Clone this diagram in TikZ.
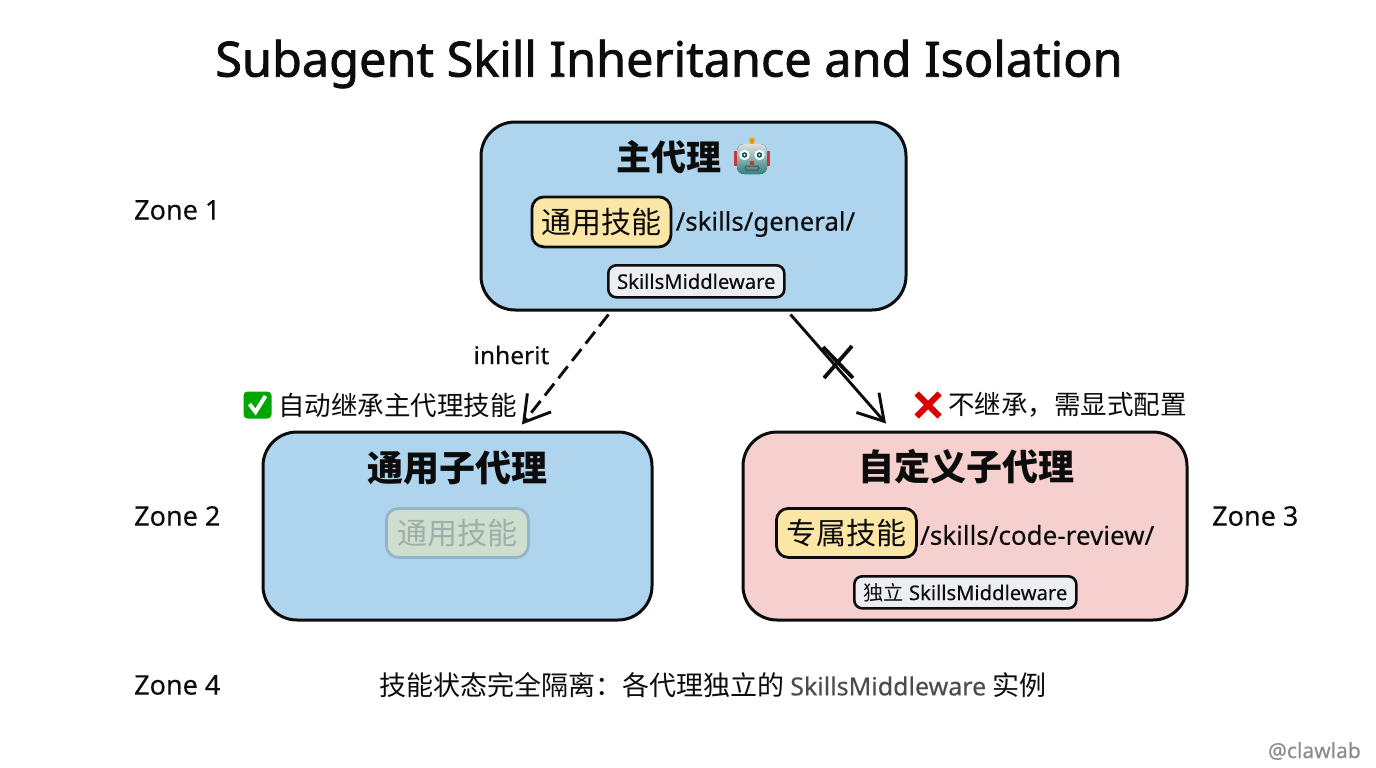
\documentclass[tikz,border=0pt]{standalone}
\usepackage{fontspec}
\setmainfont{Noto Sans}[FakeBold=0.15]
\newfontfamily\titlefont{Noto Sans}[FakeBold=1.5]
\newfontfamily\plainlatin{Noto Sans}[FakeBold=0.15]
\newfontfamily\cjk{Noto Sans CJK SC}
\usetikzlibrary{arrows.meta,calc}
\definecolor{bluebox}{HTML}{AED4EE}
\definecolor{pinkbox}{HTML}{F6D0CE}
\definecolor{yellowchip}{HTML}{FBE6A6}
\definecolor{graychip}{HTML}{ECEEF3}
\definecolor{fadechip}{HTML}{CFDFCF}
\definecolor{fadeline}{HTML}{94B4C8}
\definecolor{fadetext}{HTML}{9DAFA8}
\definecolor{ink}{HTML}{0C0C0C}
\newcommand{\fs}[1]{\fontsize{#1}{#1}\selectfont}
\tikzset{
  x=1pt,y=-1pt,
  panel/.style={draw=ink,line width=3pt,rounded corners=34pt,anchor=north west,inner sep=0pt},
  chip/.style={draw=ink,line width=2.8pt,rounded corners=12pt,fill=yellowchip,anchor=north west,inner sep=0pt,text=ink},
  tagbox/.style={draw=ink,line width=2.6pt,rounded corners=8pt,fill=graychip,anchor=north west,inner sep=0pt,text=ink},
  zone/.style={anchor=west,inner sep=0pt,text=ink,font=\fs{27}},
  txt/.style={inner sep=0pt,text=ink},
  link/.style={draw=ink,line width=2.9pt,-{Straight Barb[length=25pt,width=30pt,line width=2.9pt]}}
}
\begin{document}
\begin{tikzpicture}
\useasboundingbox (0,0) rectangle (1376,768);
\fill[white] (0,0) rectangle (1376,768);

\node[txt,font=\fs{48.6}\titlefont] (title) at (669,64) {Subagent Skill Inheritance and Isolation};

\node[panel,fill=bluebox,minimum width=425pt,minimum height=188pt] (main) at (479.5,120.5) {};
\node[panel,fill=bluebox,minimum width=389pt,minimum height=188pt] (gen) at (261.5,430.5) {};
\node[panel,fill=pinkbox,minimum width=444pt,minimum height=188pt] (cus) at (741.5,430.5) {};

\node[txt,font=\fs{35}\cjk\bfseries] (maint) at (669,157) {主代理};
\node[txt,font=\fs{36}\cjk\bfseries] (gent) at (457,468) {通用子代理};
\node[txt,font=\fs{36}\cjk\bfseries] (cust) at (966,467) {自定义子代理};

% robot emoji
\coordinate (robot) at (752,158);
\begin{scope}[shift={(robot)}]
  \draw[line width=1.4pt,draw=gray] (0,-13) -- (0,-16);
  \fill[orange!85!yellow] (0,-17.5) circle (3);
  \fill[red!55!gray] (-18,-7) rectangle (-14,8);
  \fill[red!55!gray] (14,-7) rectangle (18,8);
  \fill[rounded corners=7pt,top color=gray!25!white,bottom color=teal!60!gray] (-15,-14) rectangle (15,16);
  \foreach \sx in {-7.5,7.5}{
    \fill[white] (\sx,-3) circle (5.2);
    \fill[teal!70!black] (\sx,-3) circle (2.8);
    \fill[white] (\sx,-3) circle (1.1);
  }
  \fill[red!55!gray] (-2,3) rectangle (2,7);
  \draw[line width=1pt,draw=black!70,rounded corners=1.5pt] (-7,8) rectangle (7,12);
\end{scope}

\node[chip,minimum width=139pt,minimum height=50pt,font=\fs{30}\cjk] (skill1) at (530.5,195.5) {通用技能};
\node[txt,anchor=west,font=\fs{25.8}] (path1) at (675.5,224) {/skills/general/};
\node[tagbox,minimum width=176pt,minimum height=32pt,font=\fs{20.2}] (mw1) at (607,264) {SkillsMiddleware};

\node[chip,draw=fadeline,fill=fadechip,text=fadetext,minimum width=142pt,minimum height=49pt,font=\fs{30}\cjk] (skill2) at (385,507) {通用技能};

\node[chip,minimum width=140pt,minimum height=49pt,font=\fs{30}\cjk] (skill3) at (775,507) {专属技能};
\node[txt,anchor=west,font=\fs{26}] (path3) at (920,535) {/skills/code-review/};
\node[tagbox,minimum width=222pt,minimum height=32pt,font=\fs{20.2}] (mw3) at (853,575) {{\cjk 独立} SkillsMiddleware};

\node[zone] (z1) at (134,210) {Zone 1};
\node[zone] (z2) at (134,516) {Zone 2};
\node[zone] (z3) at (1212,516) {Zone 3};
\node[zone] (z4) at (134,685) {Zone 4};

% connectors
\coordinate (inhS) at ($(main.south)+(-85,3)$);
\coordinate (inhE) at ($(gen.north)+(64.5,-6)$);
\coordinate (noS) at ($(main.south)+(97,3)$);
\coordinate (noE) at ($(cus.north)+(-79,-7)$);
\draw[link,dash pattern=on 15pt off 7pt] (inhS) -- (inhE);
\draw[link] (noS) -- (noE);
\coordinate (xc) at (838,362);
\draw[ink,line width=3.8pt] ($(xc)+(-15,-15)$) -- ($(xc)+(15,16)$);
\draw[ink,line width=3.8pt] ($(xc)+(14,-16)$) -- ($(xc)+(-14,16)$);

\node[txt,font=\fs{24.5}] (inh) at (511.5,355) {inherit};

% green check
\coordinate (okm) at (257.5,405);
\fill[green!65!black,rounded corners=4pt] ($(okm)+(-14,-13.5)$) rectangle ($(okm)+(14,13.5)$);
\draw[white,line width=4pt] ($(okm)+(-8,-1)$) -- ($(okm)+(-2,7)$) -- ($(okm)+(8,-9)$);
\node[txt,anchor=west,font=\fs{26.5}\cjk] (okt) at (278,405) {自动继承主代理技能};

% red cross
\coordinate (ngm) at (928,405);
\draw[red!85!black,line width=6pt] ($(ngm)+(-11.5,-11.5)$) -- ($(ngm)+(11.5,11.5)$);
\draw[red!85!black,line width=6pt] ($(ngm)+(11.5,-11.5)$) -- ($(ngm)+(-11.5,11.5)$);
\node[txt,anchor=west,font=\fs{26.5}\cjk] (ngt) at (948,405) {不继承，需显式配置};

\node[txt,anchor=west,font=\fs{27}\cjk] (foot) at (379,685) {技能状态完全隔离：各代理独立的 {\plainlatin\fs{25}\color{black!70}SkillsMiddleware} 实例};

\node[txt,anchor=east,text=black!45,font=\fs{21}] (mark) at (1361,751) {@clawlab};
\end{tikzpicture}
\end{document}
